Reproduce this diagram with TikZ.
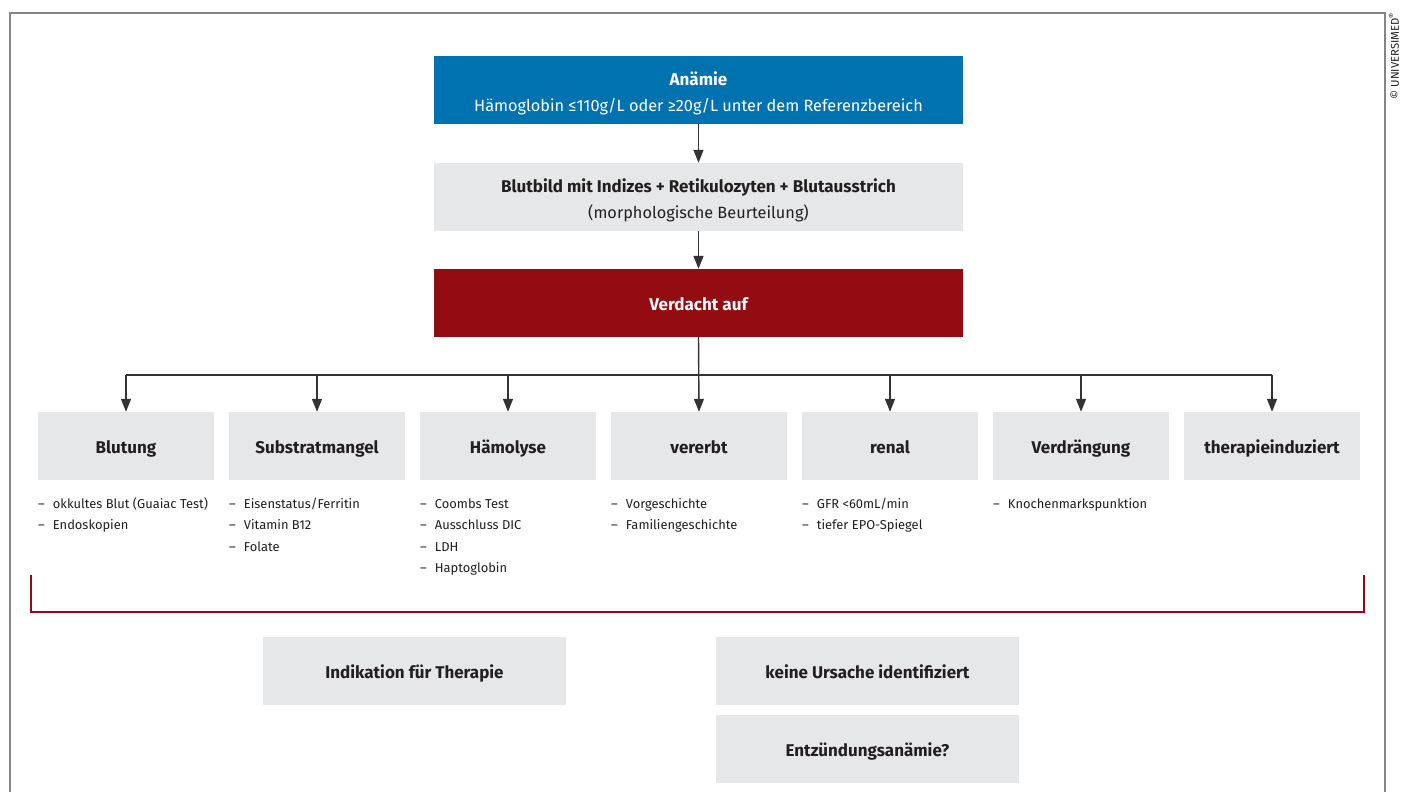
\documentclass[tikz,border=0pt]{standalone}
\usepackage{fontspec}
\setmainfont{Fira Sans}
\usetikzlibrary{arrows.meta}
\definecolor{anblue}{HTML}{0072AF}
\definecolor{anred}{HTML}{930C11}
\definecolor{angray}{HTML}{E6E7E8}
\definecolor{antext}{HTML}{231F20}
\definecolor{anline}{HTML}{333333}
\definecolor{anframe}{HTML}{858585}
\tikzset{
  boxbase/.style={rectangle, inner sep=0pt, minimum height=68pt, align=center},
  widebox/.style={boxbase, minimum width=529pt},
  widetext/.style={inner sep=0pt, align=center, yshift=-3pt, font=\fontsize{16.3}{26}\selectfont},
  onelabel/.style={text height=14pt, text depth=0pt, font=\fontsize{17}{20}\selectfont\bfseries},
  catbox/.style={boxbase, minimum width=176pt, fill=angray, text=antext, onelabel},
  endbox/.style={boxbase, minimum width=303pt, fill=angray, text=antext, onelabel},
  listnode/.style={anchor=base west, inner sep=0pt, text=antext, font=\fontsize{12.9}{21.5}\selectfont},
  arr/.style={draw=anline, line width=1.4pt, -{Triangle[width=10pt,length=13pt]}},
  conn/.style={draw=anline, line width=1.4pt},
}
\newcommand{\anlist}[1]{\begin{tabular}[t]{@{}l@{\hspace{8pt}}l@{}}#1\end{tabular}}
\newcommand{\anhead}[1]{{\fontsize{17}{26}\selectfont\bfseries #1}}
\begin{document}
\begin{tikzpicture}[x=1pt,y=-1pt]
\useasboundingbox (0,0) rectangle (1402,792);
\fill[white] (0,0) rectangle (1402,792);
% frame
\draw[anframe, line width=1.5pt] (10,792) -- (10,13) -- (1385,13) -- (1385,792);
\node[rotate=90, inner sep=0pt, text=antext, font=\fontsize{11.3}{13}\selectfont] (copy) at (1394,56) {© UNIVERSIMED\textsuperscript{®}};
% top boxes
\node[widebox, fill=anblue] (anaemie) at (698.5,90) {};
\node[widetext, text=white] (anaemieT) at (anaemie.center) {\anhead{Anämie}\\Hämoglobin ≤110g/L oder ≥20g/L unter dem Referenzbereich};
\node[widebox, fill=angray] (blutbild) at (698.5,197) {};
\node[widetext, text=antext] (blutbildT) at (blutbild.center) {\anhead{Blutbild mit Indizes + Retikulozyten + Blutausstrich}\\(morphologische Beurteilung)};
\node[widebox, fill=anred, text=white, onelabel] (verdacht) at (698.5,303) {Verdacht auf};
% category boxes
\node[catbox] (b1) at (126,446) {Blutung};
\node[catbox] (b2) at (317,446) {Substratmangel};
\node[catbox] (b3) at (508,446) {Hämolyse};
\node[catbox] (b4) at (699,446) {vererbt};
\node[catbox] (b5) at (890,446) {renal};
\node[catbox] (b6) at (1081,446) {Verdrängung};
\node[catbox] (b7) at (1272,446) {therapieinduziert};
% lists
\node[listnode] (l1) at (38,508) {\anlist{–& okkultes Blut (Guaiac Test)\\–& Endoskopien}};
\node[listnode] (l2) at (229,508) {\anlist{–& Eisenstatus/Ferritin\\–& Vitamin B12\\–& Folate}};
\node[listnode] (l3) at (420,508) {\anlist{–& Coombs Test\\–& Ausschluss DIC\\–& LDH\\–& Haptoglobin}};
\node[listnode] (l4) at (611,508) {\anlist{–& Vorgeschichte\\–& Familiengeschichte}};
\node[listnode] (l5) at (802,508) {\anlist{–& GFR <60mL/min\\–& tiefer EPO-Spiegel}};
\node[listnode] (l6) at (993,508) {\anlist{–& Knochenmarkspunktion}};
% connectors
\draw[arr] (anaemie.south) -- (blutbild.north);
\draw[arr] (blutbild.south) -- (verdacht.north);
\coordinate (hub) at (699,375);
\draw[arr] (verdacht.south) -- (b4.north);
\draw[conn] (b1.north |- hub) -- (b7.north |- hub);
\foreach \b in {b1,b2,b3,b5,b6,b7}{
  \draw[arr] (\b.north |- hub) -- (\b.north);
}
% red bracket
\coordinate (brl) at (31,575);
\coordinate (brr) at (1364,575);
\draw[anred, line width=2.2pt] (brl) -- (31,612) -- (1364,612) -- (brr);
% bottom boxes
\node[endbox] (ind) at (414.5,671) {Indikation für Therapie};
\node[endbox] (keine) at (867.5,671) {keine Ursache identifiziert};
\node[endbox] (entz) at (867.5,749) {Entzündungsanämie?};
\end{tikzpicture}
\end{document}
